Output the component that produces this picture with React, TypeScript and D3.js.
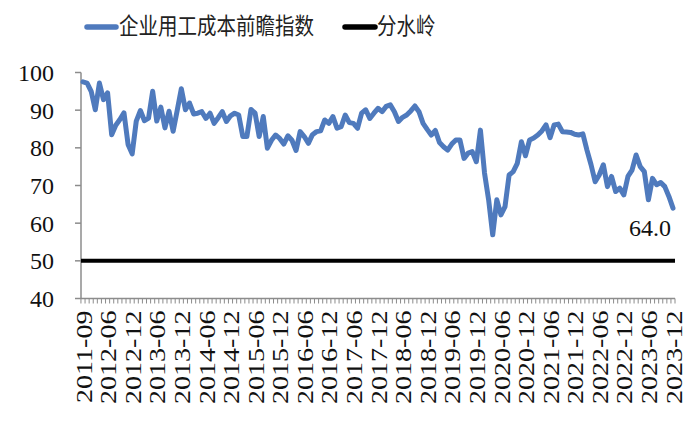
import React from "react";
import * as d3 from "d3";

const seriesName = "企业用工成本前瞻指数";
const lineName = "分水岭";
const threshold = 50;

const monthsAfter: string[] = [];
for (let y = 2012; y <= 2023; y++) for (let m = 1; m <= 12; m++) monthsAfter.push(`${y}-${String(m).padStart(2, "0")}`);
const categories: string[] = ["2011-09", ...monthsAfter];

const tickLabels = [
  "2011-09", "2012-06", "2012-12", "2013-06", "2013-12", "2014-06", "2014-12", "2015-06", "2015-12",
  "2016-06", "2016-12", "2017-06", "2017-12", "2018-06", "2018-12", "2019-06", "2019-12", "2020-06",
  "2020-12", "2021-06", "2021-12", "2022-06", "2022-12", "2023-06", "2023-12",
];

const values = [
  97.5, 97.2, 95.0, 90.1, 97.2, 92.8, 94.6, 83.5, 86.0, 87.5,
  89.3, 80.9, 78.4, 87.1, 89.9, 87.2, 87.9, 95.0, 87.1, 90.8,
  85.3, 89.7, 84.4, 90.0, 95.7, 90.1, 91.9, 89.0, 89.2, 89.6,
  87.8, 89.2, 86.5, 88.0, 89.6, 87.0, 88.5, 89.2, 88.7, 83.0,
  83.0, 90.2, 89.2, 83.0, 88.3, 79.9, 82.0, 83.4, 82.5, 81.0,
  83.2, 82.0, 79.3, 84.3, 83.0, 81.2, 83.5, 84.3, 84.5, 87.4,
  86.5, 88.3, 85.2, 85.6, 88.7, 86.7, 86.5, 85.2, 89.2, 90.1,
  87.8, 89.2, 90.5, 89.6, 91.0, 91.4, 89.6, 87.0, 88.1, 88.7,
  89.8, 91.1, 89.6, 86.5, 84.9, 83.4, 84.6, 81.4, 80.3, 79.4,
  81.0, 82.1, 82.1, 77.2, 78.6, 79.0, 76.3, 84.7, 73.3, 66.2,
  56.9, 66.2, 62.2, 64.4, 72.8, 73.7, 75.9, 81.6, 77.9, 82.1,
  82.6, 83.4, 84.5, 86.1, 82.7, 86.1, 86.3, 84.3, 84.2, 84.1,
  83.6, 83.4, 83.7, 79.4, 75.5, 71.0, 72.8, 75.5, 69.7, 72.4,
  68.4, 69.3, 67.5, 72.4, 74.1, 78.1, 75.0, 73.7, 66.2, 71.9,
  70.2, 70.8, 69.7, 67.1, 64.0,
];

const yTicks = [40, 50, 60, 70, 80, 90, 100];

export default function App() {
  const W = 700, H = 426;
  const axisLeft = 81, axisRight = 675, top = 72.5, bottom = 298.5;
  const x = d3.scalePoint<string>().domain(categories).range([83, 673]);
  const step = x.step();
  const y = d3.scaleLinear().domain([40, 100]).range([bottom, top]);
  const line = d3.line<number>().x((_, i) => x(categories[i])!).y((d) => y(d));
  const blue = "#4f7abd";
  const axisColor = "#8c8c8c";
  const last = values[values.length - 1];
  const serif = "'Liberation Serif', 'Times New Roman', serif";
  const cjk = "'Noto Sans CJK SC', sans-serif";

  return (
    <svg width={W} height={H} style={{ position: "absolute", left: 0, top: 0, background: "#fff" }}>
      {/* legend */}
      <line x1={87} x2={116} y1={27} y2={27} stroke={blue} strokeWidth={5.5} strokeLinecap="round" />
      <text transform="translate(119,34) scale(1,1.18)" fontFamily={cjk} fontSize={19.5} fill="#222">{seriesName}</text>
      <line x1={345} x2={375} y1={27} y2={27} stroke="#000" strokeWidth={5.5} strokeLinecap="round" />
      <text transform="translate(377,34) scale(1,1.18)" fontFamily={cjk} fontSize={19.5} fill="#222">{lineName}</text>

      {/* y axis */}
      <line x1={axisLeft} x2={axisLeft} y1={top} y2={bottom} stroke={axisColor} strokeWidth={1.5} />
      {yTicks.map((t) => (
        <g key={t}>
          <line x1={axisLeft - 6} x2={axisLeft} y1={y(t)} y2={y(t)} stroke={axisColor} strokeWidth={1.5} />
          <text x={54} y={y(t)} dy="0.35em" textAnchor="end" fontFamily={serif} fontSize={24} fill="#111">{t}</text>
        </g>
      ))}

      {/* x axis */}
      <line x1={axisLeft} x2={axisRight} y1={bottom} y2={bottom} stroke={axisColor} strokeWidth={1.5} />
      {categories.map((c) => (
        <line key={c} x1={x(c)! - step / 2} x2={x(c)! - step / 2} y1={bottom} y2={bottom + 5} stroke={axisColor} strokeWidth={1} />
      ))}
      <line x1={axisRight} x2={axisRight} y1={bottom} y2={bottom + 5} stroke={axisColor} strokeWidth={1} />
      {tickLabels.map((t) => (
        <text key={t} transform={`translate(${x(t)! + 1},${bottom + 12}) rotate(-90) scale(1.22,1)`} textAnchor="end" dominantBaseline="central" fontFamily={serif} fontSize={23} fill="#111">{t}</text>
      ))}

      {/* threshold */}
      <line x1={axisLeft} x2={axisRight} y1={y(threshold)} y2={y(threshold)} stroke="#000" strokeWidth={4} />

      {/* series */}
      <path d={line(values) || ""} fill="none" stroke={blue} strokeWidth={5} strokeLinejoin="round" strokeLinecap="round" />

      <text x={650} y={y(last) + 28} textAnchor="middle" fontFamily={serif} fontSize={24} fill="#111">{last.toFixed(1)}</text>
    </svg>
  );
}
